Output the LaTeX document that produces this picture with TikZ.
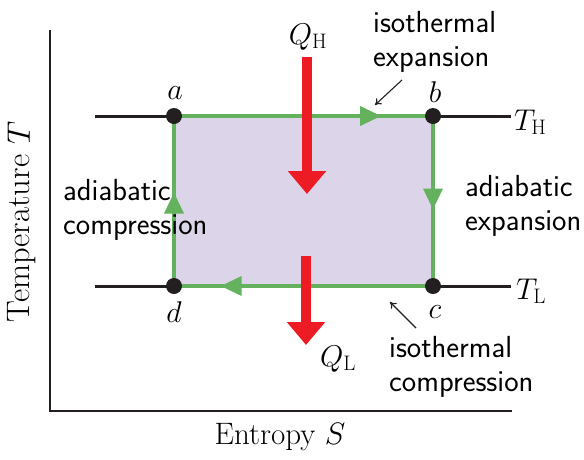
\RequirePackage{fix-cm}
\documentclass[tikz,border=0pt]{standalone}
\usetikzlibrary{arrows.meta,decorations.markings}
\definecolor{cyclered}{RGB}{237,28,36}
\definecolor{cyclegreen}{RGB}{100,178,94}
\definecolor{lav}{RGB}{220,212,232}
\definecolor{ink}{RGB}{35,31,32}
\newcommand\sflabel{\fontsize{30.5}{34}\selectfont\sffamily}
\newcommand\mathlabel{\fontsize{30}{32}\selectfont}
\begin{document}
\begin{tikzpicture}[x=1pt,y=-1pt,
  axisline/.style={draw=ink,line width=1.8pt},
  isoline/.style={draw=ink,line width=3pt},
  dotnode/.style={circle,fill=ink,inner sep=0pt,minimum size=16pt},
  mlabel/.style={font=\mathlabel,inner sep=0pt},
  slabel/.style={font=\sflabel,align=left,inner sep=0pt,anchor=north west},
  heatarrow/.style={draw=cyclered,line width=10pt,-{Triangle[length=23pt,width=37pt]}},
  pointer/.style={draw=ink,line width=1.1pt,-{To[length=6pt,width=8pt]}},
  cycleedge/.style={draw=cyclegreen,line width=3.5pt},
  midarrow/.style={postaction={decorate},decoration={markings,
     mark=at position #1 with {\arrow[cyclegreen]{Triangle[length=21pt,width=19pt]}}}}
]
\useasboundingbox (0,0) rectangle (584,459);
% axes
\coordinate (ytop) at (50,30);
\coordinate (orig) at (50,411);
\coordinate (xend) at (512,411);
\draw[axisline] (ytop) -- (orig) -- (xend);
\node[rotate=90,font=\fontsize{32.5}{35}\selectfont,inner sep=0pt] (ylab) at (22,222) {Temperature $T$};
\node[font=\fontsize{31}{35}\selectfont,inner sep=0pt] (xlab) at (280,437) {Entropy $S$};
% isotherms
\coordinate (thl) at (95,116);
\coordinate (thr) at (511,116);
\coordinate (tll) at (95,286);
\coordinate (tlr) at (511,286);
\draw[isoline] (thl) -- (thr);
\draw[isoline] (tll) -- (tlr);
% cycle corners
\coordinate (A) at (174,116);
\coordinate (B) at (433,116);
\coordinate (C) at (433,286);
\coordinate (D) at (174,286);
\fill[lav] (A) rectangle (C);
\draw[cycleedge,midarrow=0.80] (A) -- (B);
\draw[cycleedge,midarrow=0.55] (B) -- (C);
\draw[cycleedge,midarrow=0.82] (C) -- (D);
\draw[cycleedge,midarrow=0.55] (D) -- (A);
\node[dotnode] (a) at (A) {};
\node[dotnode] (b) at (B) {};
\node[dotnode] (c) at (C) {};
\node[dotnode] (d) at (D) {};
\node[mlabel] (la) at (175,93) {$a$};
\node[mlabel] (lb) at (435,92) {$b$};
\node[mlabel] (lc) at (435,312) {$c$};
\node[mlabel] (ld) at (174,312) {$d$};
\node[mlabel,anchor=west] (TH) at (514,122) {$T_{\mathrm{H}}$};
\node[mlabel,anchor=west] (TL) at (516,291) {$T_{\mathrm{L}}$};
% heat flows
\coordinate (qh1) at (307,57);
\coordinate (qh2) at (307,194);
\coordinate (ql1) at (306,256);
\coordinate (ql2) at (306,345);
\draw[heatarrow] (qh1) -- (qh2);
\draw[heatarrow] (ql1) -- (ql2);
\node[mlabel] (QH) at (308,37) {$Q_{\mathrm{H}}$};
\node[mlabel] (QL) at (338,359) {$Q_{\mathrm{L}}$};
% process labels
\node[slabel] (isoexp) at (373,11) {isothermal\\expansion};
\node[slabel] (adexp) at (465,175) {adiabatic\\expansion};
\node[slabel] (adcomp) at (63,179) {adiabatic\\compression};
\node[slabel] (isocomp) at (389,336) {isothermal\\compression};
% pointers
\coordinate (p1s) at (402,80);
\coordinate (p1e) at (375,105);
\coordinate (p2s) at (416,328);
\coordinate (p2e) at (390,302);
\draw[pointer] (p1s) -- (p1e);
\draw[pointer] (p2s) -- (p2e);
\end{tikzpicture}
\end{document}
